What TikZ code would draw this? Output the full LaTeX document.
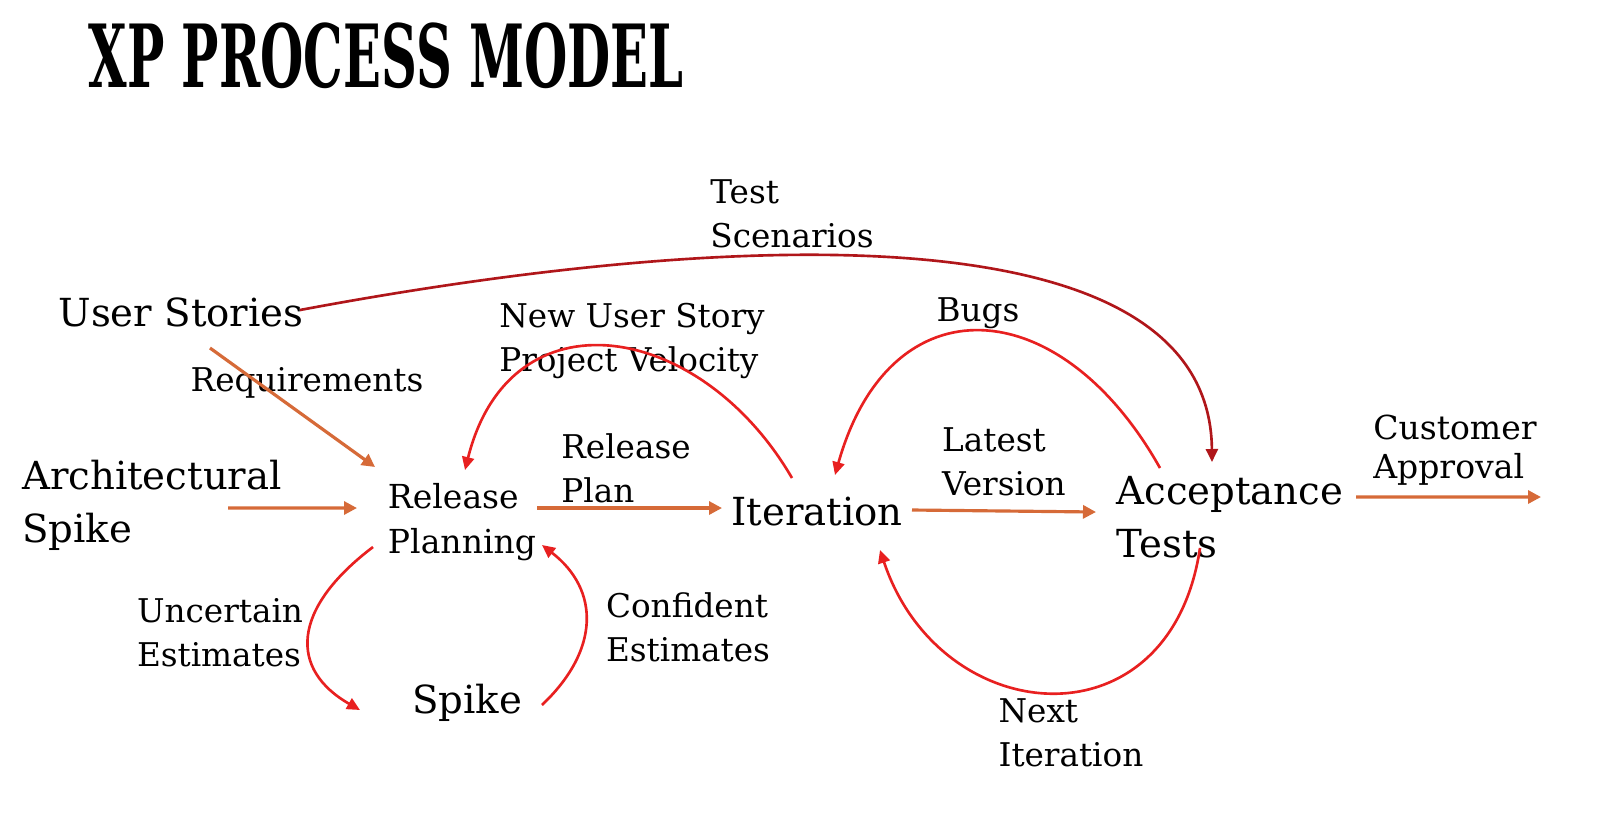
\documentclass[tikz,border=0pt]{standalone}
\usepackage{fontspec}
\usepackage{graphicx}
\setmainfont{DejaVu Serif}
\usetikzlibrary{arrows.meta}

\definecolor{flowOrange}{RGB}{214,106,56}
\definecolor{loopRed}{RGB}{232,32,32}
\definecolor{darkLoop}{RGB}{176,22,26}

\begin{document}
\begin{tikzpicture}[
    bigtext/.style={font=\fontsize{11}{15}\selectfont, align=left, inner sep=0pt},
    midtext/.style={font=\fontsize{9.4}{12.8}\selectfont, align=left, inner sep=0pt},
    lbl/.style={font=\fontsize{9.3}{12.6}\selectfont, align=left, inner sep=0pt},
    feed/.style={flowOrange, line width=0.9pt, -{Triangle[length=1.3mm, width=1.3mm]}},
    loop/.style={loopRed, line width=0.75pt, -{Triangle[length=1.3mm, width=1.2mm]}},
]
\fill[white] (0,0) rectangle (15.98,-8.16);
\useasboundingbox (0,0) rectangle (15.98,-8.16);

% title
\node[anchor=west, inner sep=0pt] (title) at (0.88,-0.56)
    {\scalebox{0.57}[1]{\fontsize{24.8}{28}\selectfont\bfseries XP PROCESS MODEL}};

% stages
\node[bigtext] (us)   at (1.81,-3.12) {User Stories};
\node[bigtext] (arch) at (1.52,-5.05) {Architectural\\Spike};
\node[midtext] (rel)  at (4.62,-5.22) {Release\\Planning};
\node[bigtext] (it)   at (8.17,-5.12) {Iteration};
\node[bigtext] (acc)  at (12.30,-5.17) {Acceptance\\Tests};
\node[bigtext] (spk)  at (4.67,-7.03) {Spike};
\coordinate (approved) at (15.41,-4.97);

% labels
\node[lbl] (scen)  at (7.92,-2.14) {Test\\Scenarios};
\node[lbl] (req)   at (3.07,-3.83) {Requirements};
\node[lbl] (story) at (6.32,-3.41) {New User Story\\Project Velocity};
\node[lbl] (bugs)  at (9.78,-3.13) {Bugs};
\node[lbl] (plan)  at (6.26,-4.68) {Release\\Plan};
\node[lbl] (ver)   at (10.04,-4.62) {Latest\\Version};
\node[lbl, font=\fontsize{9.4}{11}\selectfont] (appr) at (14.55,-4.50) {Customer\\Approval};
\node[lbl] (unc)   at (2.20,-6.33) {Uncertain\\Estimates};
\node[lbl] (conf)  at (6.88,-6.27) {Confident\\Estimates};
\node[lbl] (next)  at (10.71,-7.33) {Next\\Iteration};

% straight feeds
\draw[feed] ([shift={(0.29,-0.36)}]us.center) -- ([shift={(-0.87,0.55)}]rel.center);
\draw[feed] ([shift={(0.76,-0.03)}]arch.center) -- ([shift={(-1.05,0.14)}]rel.center);
\draw[feed] ([shift={(0.75,0.14)}]rel.center) -- ([shift={(-0.95,0.04)}]it.center);
\draw[feed] ([shift={(0.95,0.02)}]it.center) -- ([shift={(-1.34,0.05)}]acc.center);
\draw[feed] ([shift={(1.26,0.20)}]acc.center) -- (approved);

% loops
\draw[loop, darkLoop] ([shift={(1.19,0.02)}]us.center)
    .. controls (7.0,-2.35) and (12.1,-2.0) .. ([shift={(-0.18,0.55)}]acc.center);
\draw[loop] ([shift={(-0.25,0.34)}]it.center)
    .. controls (7.0,-3.2) and (5.1,-2.9) .. ([shift={(0.03,0.52)}]rel.center);
\draw[loop] ([shift={(-0.70,0.49)}]acc.center)
    .. controls (10.6,-2.9) and (8.9,-2.8) .. ([shift={(0.18,0.37)}]it.center);
\draw[loop] ([shift={(-0.30,-0.31)}]acc.center)
    .. controls (11.7,-7.5) and (9.4,-7.3) .. ([shift={(0.63,-0.38)}]it.center);
\draw[loop] ([shift={(-0.89,-0.25)}]rel.center)
    .. controls (2.9,-6.1) and (2.9,-6.7) .. ([shift={(-1.07,-0.07)}]spk.center);
\draw[loop] ([shift={(0.75,-0.02)}]spk.center)
    .. controls (6.0,-6.5) and (6.0,-5.9) .. ([shift={(0.80,-0.23)}]rel.center);
\end{tikzpicture}
\end{document}
